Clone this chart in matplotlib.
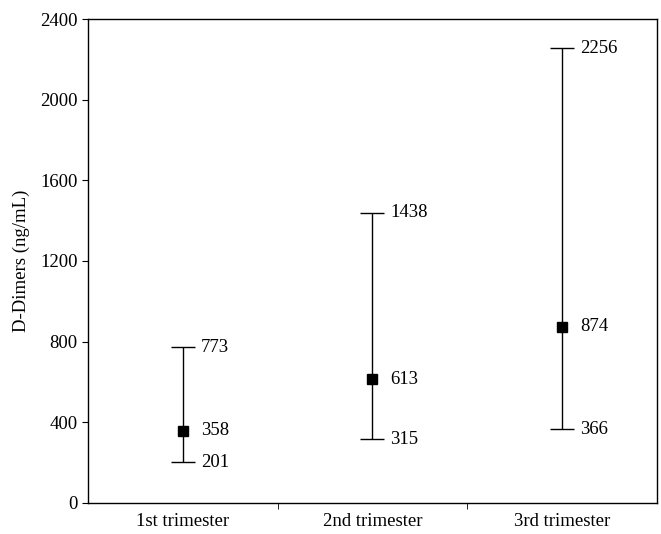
import numpy as np
import matplotlib
matplotlib.use("Agg")
import matplotlib.pyplot as plt
from matplotlib.ticker import FixedLocator

plt.rcParams.update({
    'font.family': ['Liberation Serif', 'DejaVu Serif'],
    'font.size': 13.5,
})

# data
categories = ['1st trimester', '2nd trimester', '3rd trimester']
median = [358, 613, 874]
lower = [201, 315, 366]
upper = [773, 1438, 2256]

x = np.arange(len(categories))
med = np.array(median)
err = [med - np.array(lower), np.array(upper) - med]

fig = plt.figure(figsize=(6.61, 5.34), dpi=100)
ax = fig.add_axes([0.1331, 0.0581, 0.8608, 0.9063])

ax.errorbar(x, med, yerr=err, fmt='s', color='black', ms=7.5,
            ecolor='black', elinewidth=1, capsize=8.5, capthick=1)

# value labels
for xi, lo, m, hi in zip(x, lower, median, upper):
    for v in (lo, m, hi):
        ax.annotate(str(v), (xi, v), xytext=(13, 0), textcoords='offset points',
                    ha='left', va='center')

ax.set_xlim(-0.5, len(categories) - 0.5)
ax.set_ylim(0, 2400)
ax.set_yticks(np.arange(0, 2401, 400))
ax.set_xticks(x)
ax.set_xticklabels(categories)
ax.xaxis.set_minor_locator(FixedLocator([0.5, 1.5]))
ax.tick_params(axis='x', which='major', length=0, pad=7)
ax.tick_params(axis='x', which='minor', length=4, direction='out')
ax.tick_params(axis='y', length=4, direction='out')
ax.set_ylabel('D-Dimers (ng/mL)', labelpad=7)

for s in ax.spines.values():
    s.set_linewidth(1)

fig.savefig('out.png', dpi=100)
